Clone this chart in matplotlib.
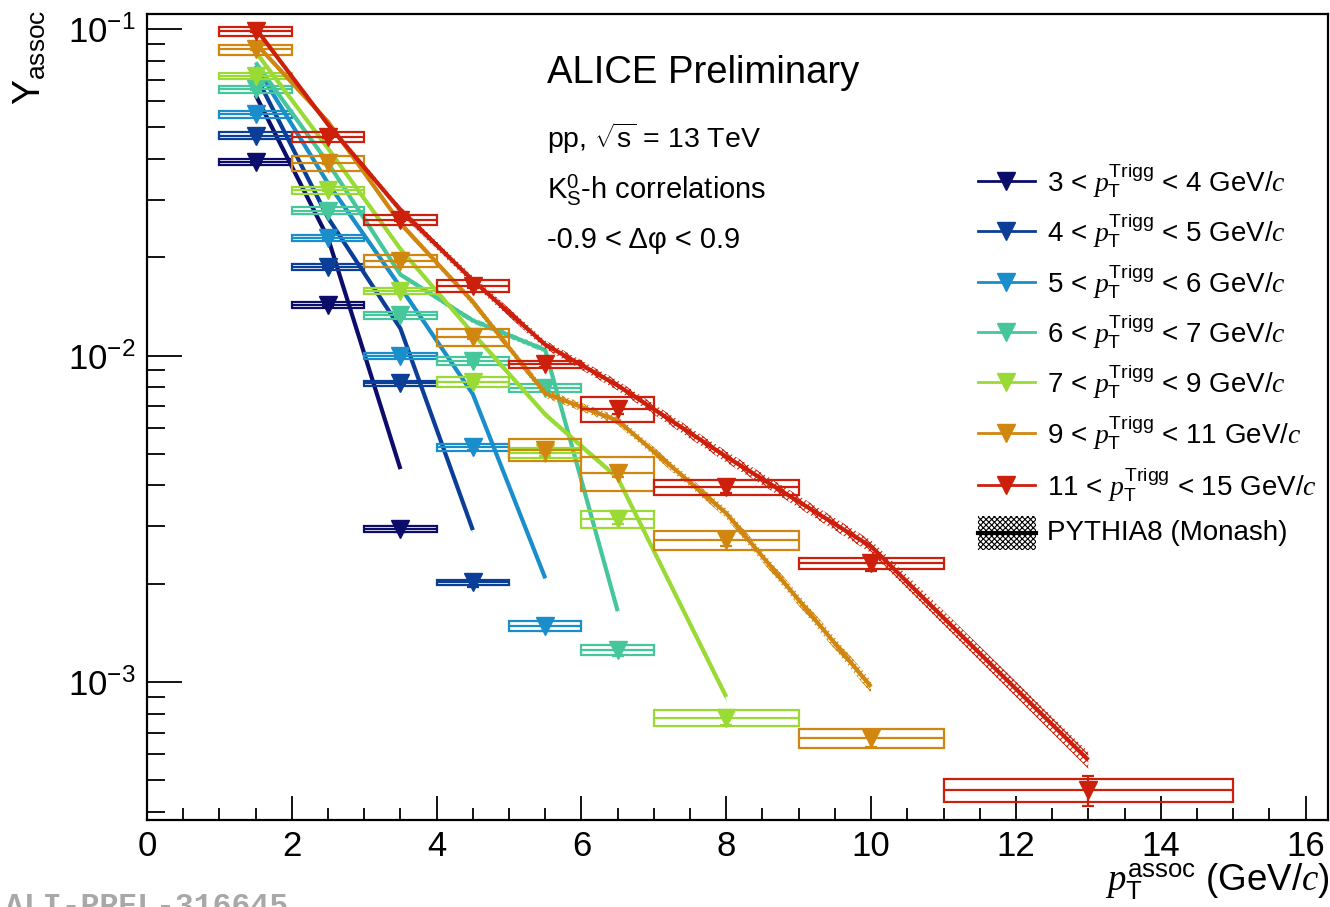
import numpy as np
import matplotlib
matplotlib.use("Agg")
import matplotlib.pyplot as plt
from matplotlib.patches import Rectangle
from matplotlib.lines import Line2D
from matplotlib.ticker import LogLocator, FixedLocator, NullFormatter

plt.rcParams['font.family'] = ['Liberation Sans', 'DejaVu Sans']
plt.rcParams['mathtext.fontset'] = 'custom'
plt.rcParams['mathtext.rm'] = 'Liberation Sans'
plt.rcParams['mathtext.it'] = 'Liberation Serif:italic'
plt.rcParams['mathtext.bf'] = 'Liberation Sans:bold'
plt.rcParams['mathtext.sf'] = 'Liberation Sans'
plt.rcParams['hatch.linewidth'] = 0.8

# ---------------- data ----------------
assoc_bin_lo = [1, 2, 3, 4, 5, 6, 7, 9, 11]
assoc_bin_hi = [2, 3, 4, 5, 6, 7, 9, 11, 15]
assoc_bin_center = [1.5, 2.5, 3.5, 4.5, 5.5, 6.5, 8, 10, 13]

trigger_labels = ["3", "4", "5", "6", "7", "9", "11"]
trigger_labels_hi = ["4", "5", "6", "7", "9", "11", "15"]

yield_3_4 = [0.0392, 0.01429, 0.00295]
yield_4_5 = [0.0472, 0.01866, 0.00822, 0.00202]
yield_5_6 = [0.0549, 0.02296, 0.00997, 0.00524, 0.001488]
yield_6_7 = [0.0653, 0.02777, 0.0133, 0.00962, 0.00795, 0.001256]
yield_7_9 = [0.0718, 0.0321, 0.0158, 0.0083, 0.00503, 0.00315, 0.000776]
yield_9_11 = [0.0866, 0.0388, 0.0195, 0.01137, 0.00514, 0.00437, 0.00272, 0.000674]
yield_11_15 = [0.0984, 0.0466, 0.0260, 0.01633, 0.0094, 0.00684, 0.00395, 0.00231, 0.000467]

# relative systematic uncertainties (box half-heights)
sys_3_4 = [0.02, 0.02, 0.02]
sys_4_5 = [0.025, 0.02, 0.02, 0.02]
sys_5_6 = [0.025, 0.02, 0.02, 0.025, 0.035]
sys_6_7 = [0.025, 0.025, 0.025, 0.028, 0.028, 0.035]
sys_7_9 = [0.02, 0.024, 0.02, 0.035, 0.035, 0.058, 0.058]
sys_9_11 = [0.035, 0.053, 0.045, 0.058, 0.077, 0.117, 0.065, 0.069]
sys_11_15 = [0.03, 0.035, 0.033, 0.04, 0.025, 0.088, 0.05, 0.036, 0.08]

# relative statistical uncertainties
stat_3_4 = [0.005, 0.01, 0.02]
stat_4_5 = [0.005, 0.008, 0.015, 0.03]
stat_5_6 = [0.005, 0.008, 0.012, 0.02, 0.04]
stat_6_7 = [0.005, 0.008, 0.01, 0.015, 0.02, 0.04]
stat_7_9 = [0.005, 0.008, 0.01, 0.015, 0.02, 0.03, 0.05]
stat_9_11 = [0.005, 0.008, 0.01, 0.015, 0.02, 0.03, 0.04, 0.06]
stat_11_15 = [0.005, 0.008, 0.01, 0.015, 0.02, 0.03, 0.04, 0.055, 0.106]

# PYTHIA8 (Monash) predictions at the same bin centres
pythia_3_4 = [0.0628, 0.0229, 0.00449]
pythia_4_5 = [0.0723, 0.0264, 0.0121, 0.00292]
pythia_5_6 = [0.0772, 0.0337, 0.0162, 0.00762, 0.00208]
pythia_6_7 = [0.0790, 0.0389, 0.0177, 0.0128, 0.0104, 0.00165]
pythia_7_9 = [0.0852, 0.0431, 0.0212, 0.0117, 0.0066, 0.00422, 0.0009]
pythia_9_11 = [0.0904, 0.0520, 0.0254, 0.0146, 0.00766, 0.00632, 0.00329, 0.000967]
pythia_11_15 = [0.1005, 0.0510, 0.0279, 0.0170, 0.0108, 0.0081, 0.0049, 0.0026, 0.000577]

# PYTHIA relative band half-widths
pyband_3_4 = [0.01, 0.01, 0.015]
pyband_4_5 = [0.01, 0.01, 0.015, 0.02]
pyband_5_6 = [0.01, 0.01, 0.015, 0.02, 0.02]
pyband_6_7 = [0.01, 0.01, 0.015, 0.02, 0.02, 0.02]
pyband_7_9 = [0.01, 0.01, 0.015, 0.02, 0.02, 0.02, 0.03]
pyband_9_11 = [0.015, 0.02, 0.02, 0.025, 0.03, 0.03, 0.035, 0.045]
pyband_11_15 = [0.015, 0.02, 0.025, 0.03, 0.03, 0.035, 0.04, 0.045, 0.06]

yields = [yield_3_4, yield_4_5, yield_5_6, yield_6_7, yield_7_9, yield_9_11, yield_11_15]
syss = [sys_3_4, sys_4_5, sys_5_6, sys_6_7, sys_7_9, sys_9_11, sys_11_15]
stats = [stat_3_4, stat_4_5, stat_5_6, stat_6_7, stat_7_9, stat_9_11, stat_11_15]
pythias = [pythia_3_4, pythia_4_5, pythia_5_6, pythia_6_7, pythia_7_9, pythia_9_11, pythia_11_15]
pybands = [pyband_3_4, pyband_4_5, pyband_5_6, pyband_6_7, pyband_7_9, pyband_9_11, pyband_11_15]

colors = ['#0c0c6a', '#0b3e96', '#1a8dcb', '#45c79b', '#9ada35', '#d1860f', '#cc200d']

# ---------------- figure ----------------
W, H = 1330, 907
fig = plt.figure(figsize=(W / 100, H / 100), dpi=100)
ax = fig.add_axes([147 / W, 1 - 820 / H, (1328 - 147) / W, (820 - 14) / H])
ax.set_yscale('log')
ax.set_xlim(0, 16.31)
ax.set_ylim(3.78e-4, 0.1112)

for i, c in enumerate(colors):
    n = len(yields[i])
    xc = np.array(assoc_bin_center[:n], dtype=float)
    lo = np.array(assoc_bin_lo[:n], dtype=float)
    hi = np.array(assoc_bin_hi[:n], dtype=float)
    y = np.array(yields[i])
    sy = np.array(syss[i])
    st = np.array(stats[i])
    z = 2 + i * 0.1
    for k in range(n):
        ax.add_patch(Rectangle((lo[k], y[k] * (1 - sy[k])), hi[k] - lo[k],
                               y[k] * 2 * sy[k], facecolor='none', edgecolor=c,
                               lw=1.6, zorder=z))
    ax.errorbar(xc, y, xerr=[xc - lo, hi - xc], fmt='none', ecolor=c,
                elinewidth=1.6, capsize=0, zorder=z)
    ax.errorbar(xc, y, yerr=y * st, fmt='none', ecolor=c, elinewidth=1.6,
                capsize=4, capthick=1.6, zorder=z)
    ax.plot(xc, y, linestyle='none', marker='v', ms=13.5, color=c, mec=c,
            zorder=z + 0.02)
    yp = np.array(pythias[i])
    bp = np.array(pybands[i])
    ax.fill_between(xc, yp * (1 - bp), yp * (1 + bp), facecolor='none',
                    edgecolor=c, hatch='xxxxx', lw=0, zorder=z + 0.03)
    ax.plot(xc, yp, '-', color=c, lw=3.0, zorder=z + 0.04,
            solid_capstyle='butt')

# axes style
for s in ['left', 'bottom', 'top', 'right']:
    ax.spines[s].set_linewidth(1.6)
ax.xaxis.set_major_locator(FixedLocator([0, 2, 4, 6, 8, 10, 12, 14, 16]))
ax.xaxis.set_minor_locator(FixedLocator(np.arange(0.5, 16.3, 0.5)))
ax.yaxis.set_major_locator(LogLocator(base=10, numticks=10))
ax.yaxis.set_minor_locator(LogLocator(base=10, subs=np.arange(2, 10), numticks=10))
ax.yaxis.set_minor_formatter(NullFormatter())
ax.tick_params(axis='x', which='major', direction='in', length=17, width=1.3,
               labelsize=25, pad=7, top=False)
ax.tick_params(axis='x', which='minor', direction='in', length=8.5, width=1.3,
               top=False)
ax.tick_params(axis='y', which='major', direction='in', length=25, width=1.3,
               labelsize=25, pad=8, right=False)
ax.tick_params(axis='y', which='minor', direction='in', length=13, width=1.3,
               right=False)

# axis titles
fig.text(1330 / W, 1 - 882 / H, r"$p_{\mathrm{T}}^{\mathrm{assoc}}$ (GeV/$c$)",
         ha='right', va='center', fontsize=26.5)
fig.text(30 / W, 1 - 10 / H, r"Y$_{\mathrm{assoc}}$", rotation=90,
         ha='center', va='top', fontsize=27)

# annotation texts
fig.text(547 / W, 1 - 73 / H, "ALICE Preliminary", ha='left', va='center',
         fontsize=27.5)
fig.text(547 / W, 1 - 138 / H, r"pp, $\sqrt{\mathrm{s}}$ = 13 TeV", ha='left',
         va='center', fontsize=20.5)
fig.text(547 / W, 1 - 190 / H, r"K$^{0}_{\mathrm{S}}$-h correlations", ha='left',
         va='center', fontsize=21)
fig.text(547 / W, 1 - 240 / H, "-0.9 < \u0394\u03c6 < 0.9", ha='left',
         va='center', fontsize=21)

# legend (drawn manually)
leg_rows = [181, 231, 282, 332, 382, 433, 485]
for i, c in enumerate(colors):
    fy = 1 - leg_rows[i] / H
    fig.add_artist(Line2D([978 / W, 1035 / W], [fy, fy], color=c, lw=2,
                          transform=fig.transFigure))
    fig.add_artist(Line2D([1006 / W], [fy], marker='v', ms=13.5, color=c,
                          transform=fig.transFigure))
    lab = (r"%s < $p_{\mathrm{T}}^{\mathrm{Trigg}}$ < %s GeV/$c$"
           % (trigger_labels[i], trigger_labels_hi[i]))
    fig.text(1047 / W, fy, lab, ha='left', va='center', fontsize=20)
fig.add_artist(Rectangle((978 / W, 1 - 550 / H), 58 / W, 34 / H,
                         transform=fig.transFigure, facecolor='white',
                         edgecolor='black', hatch='xxxxxx', lw=0))
fig.add_artist(Line2D([978 / W, 1036 / W], [1 - 533 / H, 1 - 533 / H],
                      color='black', lw=3, transform=fig.transFigure))
fig.text(1047 / W, 1 - 533 / H, "PYTHIA8 (Monash)", ha='left', va='center',
         fontsize=20)

# watermark
fig.text(5 / W, 1 - 892 / H, "ALI-PREL-316645", ha='left', va='top',
         fontsize=22.7, color='#a8a8a8', family='Liberation Mono',
         fontweight='bold')

fig.savefig('out.png', dpi=100)
